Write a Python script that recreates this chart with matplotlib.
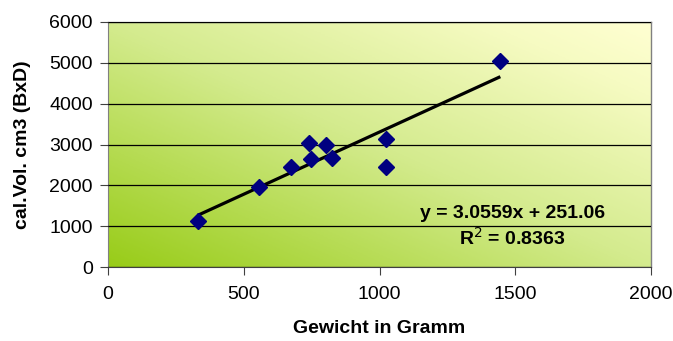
import numpy as np
import matplotlib
matplotlib.use("Agg")
import matplotlib.pyplot as plt
from matplotlib.colors import LinearSegmentedColormap

plt.rcParams['font.family'] = ['Liberation Sans', 'DejaVu Sans']

weight = [332, 557, 675, 741, 748, 803, 826, 1025, 1025, 1445]
volume = [1120, 1960, 2450, 3030, 2640, 2990, 2680, 3130, 2450, 5050]
eq_text = "y = 3.0559x + 251.06"
r2_text = "R$^2$ = 0.8363"
xticks = [0, 500, 1000, 1500, 2000]
yticks = [0, 1000, 2000, 3000, 4000, 5000, 6000]

fig = plt.figure(figsize=(6.73, 3.41), dpi=100)
ax = fig.add_axes([108/673, 1-267/341, (651-108)/673, (267-22)/341])

# gradient background
cmap = LinearSegmentedColormap.from_list("g", [(0, "#98CC18"), (0.5, "#D4EB8E"), (0.85, "#F6FBC2"), (1, "#FFFFD2")])
u = np.linspace(0, 1, 300)
v = np.linspace(0, 1, 150)
U, V = np.meshgrid(u, v)
T = (U + V) / 2
ax.imshow(T, cmap=cmap, extent=[0, 1, 0, 1], transform=ax.transAxes, origin='lower',
          aspect='auto', zorder=0, interpolation='bilinear')

ax.set_xlim(0, 2000)
ax.set_ylim(0, 6000)
ax.set_xticks(xticks)
ax.set_yticks(yticks)
ax.yaxis.grid(True, color='black', linewidth=0.9, zorder=1)
ax.set_axisbelow(False)

x = np.array(weight, dtype=float)
y = np.array(volume, dtype=float)
m, b = np.polyfit(x, y, 1)
xs = np.array([x.min(), x.max()])
ax.plot(xs, m*xs + b, color='black', linewidth=2.3, zorder=3, solid_capstyle='butt')
ax.plot(x, y, linestyle='none', marker='D', markersize=8.3, color='#000080', zorder=4)

ax.text(1489, 1322, eq_text, ha='center', va='center', fontsize=14, fontweight='bold', zorder=5)
ax.text(1489, 710, r2_text, ha='center', va='center', fontsize=14, fontweight='bold', zorder=5)

for s in ['top', 'right']:
    ax.spines[s].set_color('#808080')
    ax.spines[s].set_linewidth(1.0)
ax.spines['left'].set_color('#808080')
ax.spines['bottom'].set_color('#404040')
ax.tick_params(axis='both', direction='out', length=6, colors='#404040', labelcolor='black', labelsize=14)
ax.tick_params(axis='x', pad=8)
ax.tick_params(axis='y', pad=5)

ax.set_xlabel("Gewicht in Gramm", fontsize=14, fontweight='bold')
ax.set_ylabel("cal.Vol. cm3 (BxD)", fontsize=14, fontweight='bold')
ax.xaxis.set_label_coords(0.5, -0.215)
ax.yaxis.set_label_coords(-0.142, 0.5)

fig.savefig("out.png", dpi=100)
